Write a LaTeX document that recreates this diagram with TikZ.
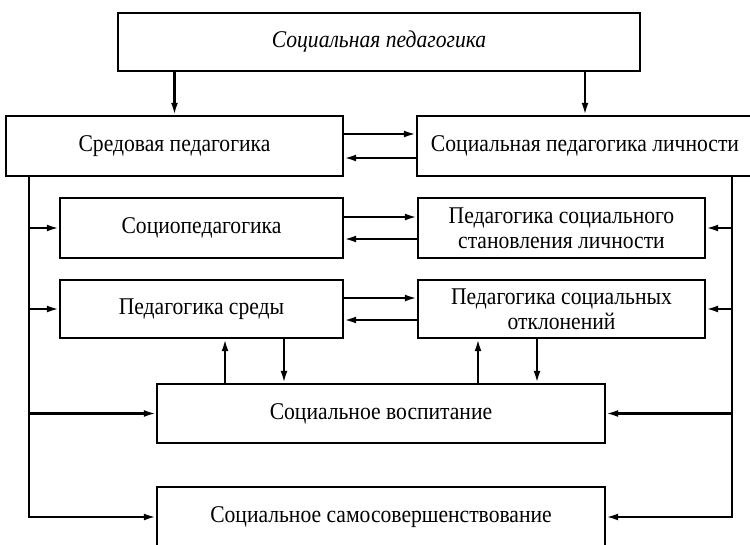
\documentclass[tikz,border=0pt]{standalone}
\usepackage{fontspec}
\setmainfont[FakeStretch=0.9]{Liberation Serif}
\usetikzlibrary{arrows.meta}
\begin{document}
\begin{tikzpicture}[x=1pt,y=-1pt]
	\tikzstyle{block}=[draw,line width=2.4pt,align=center,inner sep=0pt,font=\fontsize{24}{25}\selectfont]
	\tikzstyle{arr}=[line width=2.2pt,-{Latex[length=12pt,width=7pt]}]
	\useasboundingbox (0,0) rectangle (750,544);
	
	\node[block,minimum width=522pt,minimum height=58pt,font=\fontsize{24}{25}\selectfont\itshape] (SP) at (379,42) {Социальная педагогика};
	\node[block,minimum width=337pt,minimum height=60pt] (SrP) at (174.5,146) {Средовая педагогика};
	\node[block,minimum width=336pt,minimum height=60pt] (SPL) at (585,146) {Социальная педагогика личности};
	\node[block,minimum width=283pt,minimum height=60pt] (SocP) at (201.5,228) {Социопедагогика};
	\node[block,minimum width=287pt,minimum height=60pt] (PSSL) at (561.5,228) {Педагогика социального\\становления личности};
	\node[block,minimum width=283pt,minimum height=58pt] (PS) at (201.5,309) {Педагогика среды};
	\node[block,minimum width=287pt,minimum height=58pt] (PSO) at (561.5,309) {Педагогика социальных\\отклонений};
	\node[block,minimum width=448pt,minimum height=59pt] (SV) at (381,413.5) {Социальное воспитание};
	\node[block,minimum width=448pt,minimum height=60pt] (SS) at (381,517) {Социальное самосовершенствование};
	
	\coordinate (L) at (29,517);
	\coordinate (R) at (732,517);
	\coordinate (u1) at (225,0);
	\coordinate (d1) at (284,0);
	\coordinate (u2) at (478,0);
	\coordinate (d2) at (537,0);
	
	\draw[arr] (SP.south -| SrP.north) -- (SrP.north);
	\draw[arr] (SP.south -| SPL.north) -- (SPL.north);
	\draw[arr] ([yshift=12pt]SrP.east) -- ([yshift=12pt]SPL.west);
	\draw[arr] ([yshift=-12pt]SPL.west) -- ([yshift=-12pt]SrP.east);
	\draw[arr] ([yshift=11pt]SocP.east) -- ([yshift=11pt]PSSL.west);
	\draw[arr] ([yshift=-11pt]PSSL.west) -- ([yshift=-11pt]SocP.east);
	\draw[arr] ([yshift=11pt]PS.east) -- ([yshift=11pt]PSO.west);
	\draw[arr] ([yshift=-11pt]PSO.west) -- ([yshift=-11pt]PS.east);
	
	\draw[arr] (SrP.south -| L) -- (L) -- (SS.west);
	\draw[arr] (SocP.west -| L) -- (SocP.west);
	\draw[arr] (PS.west -| L) -- (PS.west);
	\draw[arr] (SV.west -| L) -- (SV.west);
	\draw[arr] (SPL.south -| R) -- (R) -- (SS.east);
	\draw[arr] (PSSL.east -| R) -- (PSSL.east);
	\draw[arr] (PSO.east -| R) -- (PSO.east);
	\draw[arr] (SV.east -| R) -- (SV.east);
	
	\draw[arr] (SV.north -| u1) -- (PS.south -| u1);
	\draw[arr] (PS.south -| d1) -- (SV.north -| d1);
	\draw[arr] (SV.north -| u2) -- (PSO.south -| u2);
	\draw[arr] (PSO.south -| d2) -- (SV.north -| d2);
	
\end{tikzpicture}
\end{document}
